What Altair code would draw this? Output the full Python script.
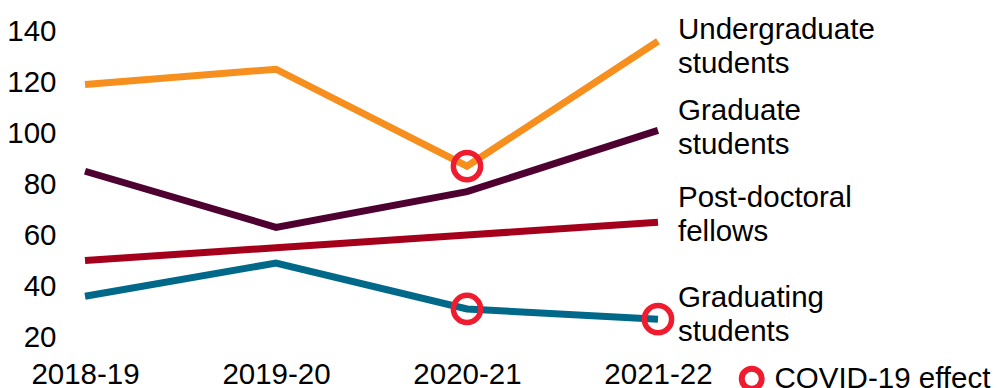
import altair as alt
import pandas as pd

years = ["2018-19", "2019-20", "2020-21", "2021-22"]
series_names = ["Undergraduate students", "Graduate students",
                "Post-doctoral fellows", "Graduating students"]
series_labels = ["Undergraduate\nstudents", "Graduate\nstudents",
                 "Post-doctoral\nfellows", "Graduating\nstudents"]
undergrad = [119, 125, 87, 136]
graduate = [85, 63, 77, 101]
postdoc = [50, 55, 60, 65]
graduating = [36, 49, 31, 27]
colors = ["#F78F1E", "#4E0030", "#A5001B", "#00698A"]

covid_series = ["Undergraduate students", "Graduating students", "Graduating students"]
covid_years = ["2020-21", "2020-21", "2021-22"]
covid_label = "COVID-19 effect"
y_ticks = [20, 40, 60, 80, 100, 120, 140]

values = [undergrad, graduate, postdoc, graduating]
rows = []
for name, vals in zip(series_names, values):
    for yr, v in zip(years, vals):
        rows.append({"series": name, "year": yr, "value": v})
df = pd.DataFrame(rows)

lookup = {(r["series"], r["year"]): r["value"] for r in rows}
covid_df = pd.DataFrame({
    "series": covid_series,
    "year": covid_years,
    "value": [lookup[(s, y)] for s, y in zip(covid_series, covid_years)],
    "effect": [covid_label] * len(covid_series),
})

label_df = pd.DataFrame({
    "series": series_names,
    "label": series_labels,
    "year": [years[-1]] * 4,
    "value": [v[-1] for v in values],
})

FONT = "Liberation Sans"
FS = 29.5

x_enc = alt.X("year:O", scale=alt.Scale(type="point", domain=years, padding=0.131),
              axis=alt.Axis(title=None, labelAngle=0, labelFontSize=FS, labelFont=FONT,
                            labelColor="black", labelPadding=23, domain=False, ticks=False))
y_enc = alt.Y("value:Q", scale=alt.Scale(domain=[20, 140], nice=False, zero=False),
              axis=alt.Axis(title=None, values=y_ticks, labelFontSize=FS, labelFont=FONT,
                            labelColor="black", labelPadding=4, domain=False, ticks=False,
                            grid=False))

lines = alt.Chart(df).mark_line(strokeWidth=7).encode(
    x=x_enc, y=y_enc,
    color=alt.Color("series:N", scale=alt.Scale(domain=series_names, range=colors), legend=None),
    detail="series:N",
)

points = alt.Chart(covid_df).mark_point(filled=False, size=740, strokeWidth=5.5, opacity=1).encode(
    x=alt.X("year:O"), y=alt.Y("value:Q"),
    stroke=alt.Stroke("effect:N", scale=alt.Scale(domain=[covid_label], range=["#EE1C2E"]),
                      legend=alt.Legend(title=None, orient="none", legendX=677, legendY=333,
                                        labelFontSize=FS, labelFont=FONT, labelColor="black",
                                        labelLimit=0,
                                        symbolSize=400, symbolStrokeWidth=6, symbolType="circle",
                                        labelOffset=8, padding=0)),
)

label_dys = [-11, -19, -24, -21]
texts = []
for name, dy in zip(series_names, label_dys):
    texts.append(
        alt.Chart(label_df[label_df["series"] == name]).mark_text(
            align="left", baseline="middle", dx=20, dy=dy, fontSize=FS, font=FONT,
            color="black", lineBreak="\n", lineHeight=34,
        ).encode(x=alt.X("year:O"), y=alt.Y("value:Q"), text="label:N")
    )

chart = alt.layer(lines, points, *texts).properties(
    width=623, height=306,
    padding={"left": 60, "top": 31, "right": 314, "bottom": 51},
    autosize=alt.AutoSizeParams(type="none"),
    background="white",
).configure_view(stroke=None, strokeWidth=0)

chart.save("out.html", embed_options={"renderer": "svg", "actions": False})
